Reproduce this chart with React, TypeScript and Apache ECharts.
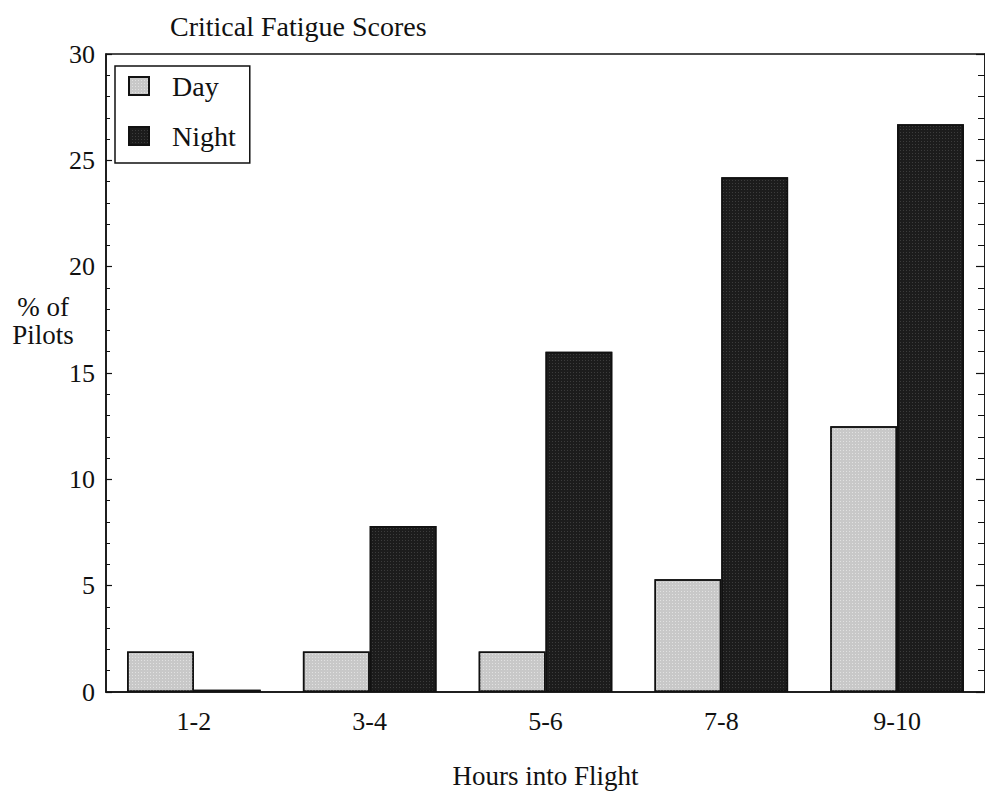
import React, { useEffect, useRef } from "react";
import * as echarts from "echarts";

const categories = ["1-2", "3-4", "5-6", "7-8", "9-10"];
const dayValues = [1.9, 1.9, 1.9, 5.3, 12.5];
const nightValues = [0.1, 7.8, 16.0, 24.2, 26.7];
const yTicks = { min: 0, max: 30, interval: 5 };

const FONT = "'Liberation Serif', 'DejaVu Serif', serif";

export default function App() {
  const ref = useRef<HTMLDivElement>(null);
  useEffect(() => {
    if (!ref.current) return;
    const chart = echarts.init(ref.current, null, { renderer: "svg" });
    const yAxisBase = {
      type: "value",
      min: yTicks.min,
      max: yTicks.max,
      interval: yTicks.interval,
      splitLine: { show: false },
      axisLine: { show: true, lineStyle: { color: "#111", width: 1.5 } },
      axisTick: { show: true, inside: true, length: 6, lineStyle: { color: "#111", width: 1.2 } },
      minorTick: { show: true, splitNumber: 5, length: 4, lineStyle: { color: "#111", width: 1 } },
    };
    chart.setOption({
      animation: false,
      backgroundColor: "#fff",
      title: {
        text: "Critical Fatigue Scores",
        left: 165,
        top: 7,
        textStyle: { fontFamily: FONT, fontSize: 28, fontWeight: "normal", color: "#111" },
      },
      legend: {
        orient: "vertical",
        left: 115,
        top: 66,
        itemGap: 22,
        itemWidth: 20,
        itemHeight: 18,
        icon: "rect",
        padding: [6, 14, 13, 13],
        borderColor: "#111",
        borderWidth: 1.5,
        data: ["Day", "Night"],
        textStyle: { fontFamily: FONT, fontSize: 28, color: "#111", padding: [0, 0, 0, 18] },
      },
      grid: {
        left: 106,
        right: -3,
        top: 54,
        bottom: 101,
        show: true,
        borderColor: "#111",
        borderWidth: 1.5,
      },
      xAxis: {
        type: "category",
        data: categories,
        name: "Hours into Flight",
        nameLocation: "middle",
        nameGap: 70,
        nameTextStyle: { fontFamily: FONT, fontSize: 27, color: "#111" },
        axisLine: { lineStyle: { color: "#111", width: 1.5 } },
        axisTick: { show: false },
        axisLabel: { fontFamily: FONT, fontSize: 26, color: "#111", margin: 16 },
      },
      yAxis: [
        {
          ...yAxisBase,
          position: "left",
          axisLabel: { fontFamily: FONT, fontSize: 26, color: "#111", margin: 11 },
        },
        {
          ...yAxisBase,
          position: "right",
          axisTick: { show: true, inside: true, length: 9, lineStyle: { color: "#111", width: 1.2 } },
          minorTick: { show: true, splitNumber: 5, length: 7, lineStyle: { color: "#111", width: 1 } },
          axisLabel: { show: false },
        },
      ],
      graphic: [
        {
          type: "text",
          x: 43,
          y: 321,
          style: {
            text: "% of\nPilots",
            font: `27px ${FONT}`,
            fill: "#111",
            align: "center",
            verticalAlign: "middle",
            lineHeight: 28,
          },
        },
      ],
      series: [
        {
          name: "Day",
          type: "bar",
          data: dayValues,
          barGap: "0%",
          barCategoryGap: "24%",
          itemStyle: {
            color: "#c8c8c8",
            borderColor: "#111",
            borderWidth: 1.5,
            decal: {
              symbol: "rect",
              symbolSize: 1,
              color: "rgba(255,255,255,0.45)",
              dashArrayX: [1, 2],
              dashArrayY: [1, 2],
            },
          },
        },
        {
          name: "Night",
          type: "bar",
          data: nightValues,
          barGap: "0%",
          barCategoryGap: "24%",
          itemStyle: {
            color: "#1c1c1c",
            borderColor: "#111",
            borderWidth: 1.5,
            decal: {
              symbol: "rect",
              symbolSize: 1,
              color: "rgba(120,120,120,0.35)",
              dashArrayX: [1, 2],
              dashArrayY: [1, 2],
            },
          },
        },
      ],
    });
    return () => chart.dispose();
  }, []);
  return (
    <div
      ref={ref}
      style={{ position: "fixed", left: 0, top: 0, width: 985, height: 794, background: "#fff" }}
    />
  );
}
